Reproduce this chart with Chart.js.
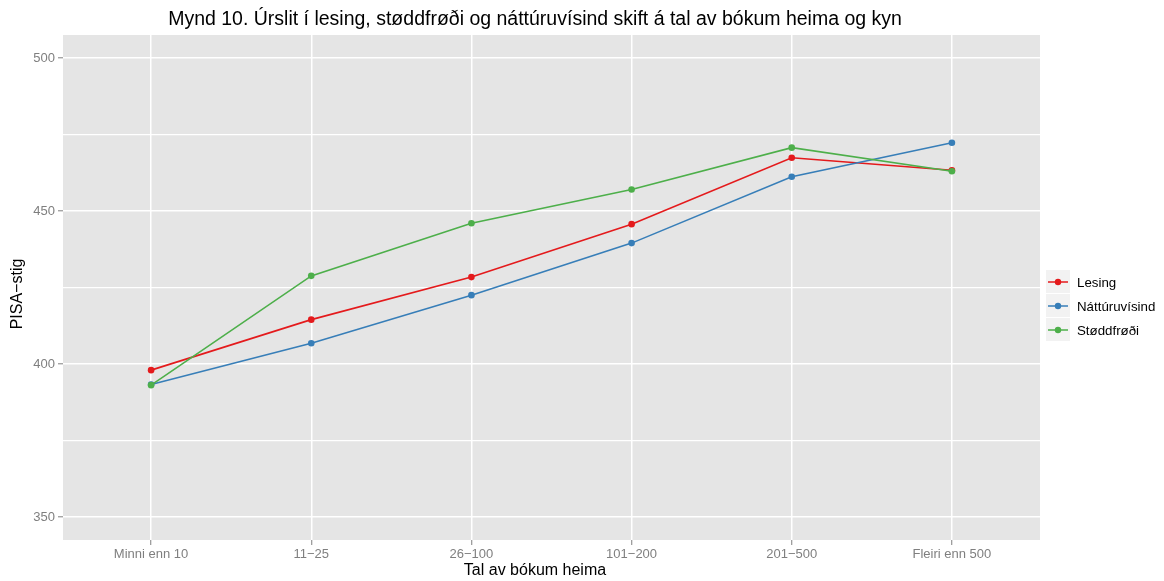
<!DOCTYPE html>
<html>
<head>
<meta charset="utf-8">
<script src="https://cdn.jsdelivr.net/npm/chart.js@4.4.1/dist/chart.umd.min.js"></script>
<style>
  html, body { margin: 0; padding: 0; background: #fff; }
  #wrap { width: 1164px; height: 581px; }
</style>
</head>
<body>
<div id="wrap"><canvas id="chart" width="1164" height="581"></canvas></div>
<script>
const categories = ['Minni enn 10', '11\u221225', '26\u2212100', '101\u2212200', '201\u2212500', 'Fleiri enn 500'];
const lesing = [398.0, 414.5, 428.4, 445.7, 467.4, 463.3];
const natturuvisind = [393.3, 406.8, 422.5, 439.5, 461.2, 472.3];
const stoddfrodi = [393.1, 428.8, 446.0, 457.0, 470.7, 463.0];
const yTicks = [350, 400, 450, 500];

const titleText = 'Mynd 10. \u00darslit \u00ed lesing, st\u00f8ddfr\u00f8\u00f0i og n\u00e1tt\u00faruv\u00edsind skift \u00e1 tal av b\u00f3kum heima og kyn';
const xTitle = 'Tal av b\u00f3kum heima';
const yTitle = 'PISA\u2212stig';

const series = [
    { label: 'Lesing', data: lesing, color: '#E41A1C', order: 2 },
    { label: 'N\u00e1tt\u00faruv\u00edsind', data: natturuvisind, color: '#377EB8', order: 1 },
    { label: 'St\u00f8ddfr\u00f8\u00f0i', data: stoddfrodi, color: '#4DAF4A', order: 0 }
];

const font = '"Liberation Sans", Arial, sans-serif';

// grey panel, titles and ggplot-like legend
const decor = {
    id: 'decor',
    beforeDraw(chart) {
        const { ctx, chartArea: a } = chart;
        ctx.save();
        ctx.fillStyle = '#E5E5E5';
        ctx.fillRect(a.left, a.top, a.right - a.left, a.bottom - a.top);
        ctx.restore();
    },
    afterDraw(chart) {
        const { ctx } = chart;
        ctx.save();
        ctx.fillStyle = '#000';
        ctx.textAlign = 'center';
        ctx.textBaseline = 'middle';
        ctx.font = '19.5px ' + font;
        ctx.fillText(titleText, 535, 20);
        ctx.font = '16px ' + font;
        ctx.fillText(xTitle, 535, 571);
        ctx.translate(18, 294);
        ctx.rotate(-Math.PI / 2);
        ctx.fillText(yTitle, 0, 0);
        ctx.restore();

        // legend
        ctx.save();
        const kx = 1046, ky = 270, kw = 24, kh = 24;
        series.forEach((s, i) => {
            const y = ky + i * kh;
            ctx.fillStyle = '#F2F2F2';
            ctx.fillRect(kx, y, kw, kh - 1);
            ctx.strokeStyle = s.color;
            ctx.lineWidth = 1.5;
            ctx.beginPath();
            ctx.moveTo(kx + 2, y + kh / 2);
            ctx.lineTo(kx + kw - 2, y + kh / 2);
            ctx.stroke();
            ctx.fillStyle = s.color;
            ctx.beginPath();
            ctx.arc(kx + kw / 2, y + kh / 2, 3.2, 0, Math.PI * 2);
            ctx.fill();
            ctx.fillStyle = '#000';
            ctx.font = '13.3px ' + font;
            ctx.textAlign = 'left';
            ctx.textBaseline = 'middle';
            ctx.fillText(s.label, kx + kw + 7, y + kh / 2 + 1);
        });
        ctx.restore();
    }
};

new Chart(document.getElementById('chart'), {
    type: 'line',
    data: {
        datasets: series.map(s => ({
            label: s.label,
            data: s.data.map((v, i) => ({ x: i, y: v })),
            borderColor: s.color,
            backgroundColor: s.color,
            borderWidth: 1.6,
            pointRadius: 3.3,
            pointBorderWidth: 0,
            pointHoverRadius: 3.3,
            tension: 0,
            order: s.order
        }))
    },
    options: {
        responsive: false,
        animation: false,
        layout: { padding: { left: 0, top: 35, right: 124, bottom: 0 } },
        plugins: {
            legend: { display: false },
            title: { display: false },
            tooltip: { enabled: false }
        },
        scales: {
            x: {
                type: 'linear',
                min: -0.55,
                max: categories.length - 1 + 0.55,
                afterBuildTicks: scale => {
                    scale.ticks = categories.map((c, i) => ({ value: i }));
                },
                afterFit: scale => { scale.height = 41; },
                ticks: {
                    color: '#7F7F7F',
                    font: { family: font, size: 13 },
                    padding: 2,
                    maxRotation: 0,
                    autoSkip: false,
                    callback: v => categories[v]
                },
                grid: {
                    color: '#FFFFFF',
                    lineWidth: 1.5,
                    tickColor: '#7F7F7F',
                    tickLength: 5,
                    tickWidth: 1
                },
                border: { display: false }
            },
            y: {
                min: 342.5,
                max: 507.5,
                afterBuildTicks: scale => {
                    const t = [];
                    for (let v = 350; v <= 500; v += 25) t.push({ value: v });
                    scale.ticks = t;
                },
                afterFit: scale => { scale.width = 63; },
                ticks: {
                    color: '#7F7F7F',
                    font: { family: font, size: 13 },
                    padding: 3,
                    callback: v => yTicks.includes(v) ? String(v) : ''
                },
                grid: {
                    color: '#FFFFFF',
                    lineWidth: c => (c.tick && yTicks.includes(c.tick.value)) ? 1.6 : 1.2,
                    tickColor: c => (c.tick && yTicks.includes(c.tick.value)) ? '#7F7F7F' : 'rgba(0,0,0,0)',
                    tickLength: 5,
                    tickWidth: 1
                },
                border: { display: false }
            }
        }
    },
    plugins: [decor]
});
</script>
</body>
</html>
